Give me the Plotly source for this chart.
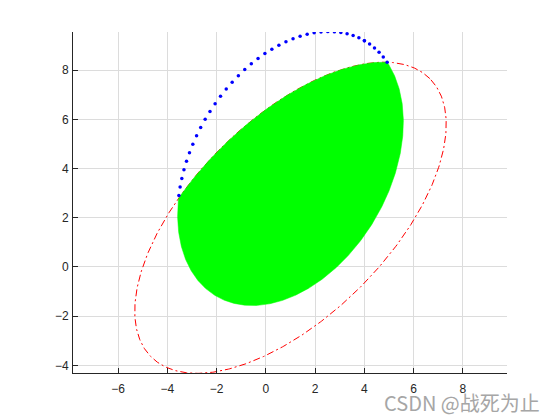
import numpy as np
import plotly.graph_objects as go

# Ellipse parameters (center, semi-axes, rotation in degrees)
e1_center = [1.0, 2.0]
e1_axes = [8.0, 4.0]
e1_angle = 45.0

e2_center = [1.0, 4.0]
e2_axes = [6.0, 4.0]
e2_angle = 60.0

x_ticks = [-6, -4, -2, 0, 2, 4, 6, 8]
y_ticks = [-4, -2, 0, 2, 4, 6, 8]
x_range = [-7.83, 9.79]
y_range = [-4.31, 9.55]

watermark = "CSDN @战死为止"


def ellipse(center, axes, angle, t):
    th = np.deg2rad(angle)
    a, b = axes
    x = center[0] + a * np.cos(t) * np.cos(th) - b * np.sin(t) * np.sin(th)
    y = center[1] + a * np.cos(t) * np.sin(th) + b * np.sin(t) * np.cos(th)
    return x, y


def inside(center, axes, angle, x, y):
    th = np.deg2rad(angle)
    dx, dy = x - center[0], y - center[1]
    u = dx * np.cos(th) + dy * np.sin(th)
    v = -dx * np.sin(th) + dy * np.cos(th)
    return (u / axes[0]) ** 2 + (v / axes[1]) ** 2 <= 1.0


# red dash-dot ellipse 1
tf = np.linspace(0, 2 * np.pi, 721)
x1, y1 = ellipse(e1_center, e1_axes, e1_angle, tf)

# intersection region (both ellipses)
x2f, y2f = ellipse(e2_center, e2_axes, e2_angle, tf)
m1 = inside(e2_center, e2_axes, e2_angle, x1, y1)
m2 = inside(e1_center, e1_axes, e1_angle, x2f, y2f)
px = np.concatenate([x1[m1], x2f[m2]])
py = np.concatenate([y1[m1], y2f[m2]])
cx, cy = px.mean(), py.mean()
order = np.argsort(np.arctan2(py - cy, px - cx))
px, py = px[order], py[order]
px = np.append(px, px[0])
py = np.append(py, py[0])

# blue dotted part of ellipse 2 outside ellipse 1
td = np.linspace(0, 2 * np.pi, 101)
x2d, y2d = ellipse(e2_center, e2_axes, e2_angle, td)
out = ~inside(e1_center, e1_axes, e1_angle, x2d, y2d)

fig = go.Figure()
fig.add_trace(go.Scatter(x=x1, y=y1, mode="lines",
                         line=dict(color="#ff0000", width=1, dash="7px,3px,2px,3px"),
                         hoverinfo="skip"))
fig.add_trace(go.Scatter(x=px, y=py, mode="lines", fill="toself",
                         fillcolor="#00ff00", line=dict(color="#00ff00", width=0.5),
                         hoverinfo="skip"))
fig.add_trace(go.Scatter(x=x2d[out], y=y2d[out], mode="markers",
                         marker=dict(color="#0000ff", size=3.5), hoverinfo="skip"))

axis_common = dict(showgrid=True, gridcolor="#dcdcdc", gridwidth=1,
                   zeroline=False, showline=True, linecolor="#262626", linewidth=1,
                   ticks="inside", ticklen=5, tickcolor="#262626",
                   tickfont=dict(family="Liberation Sans, Arial", size=12, color="#262626"),
                   mirror=False)
fig.update_xaxes(range=x_range, tickvals=x_ticks, ticklabelstandoff=5, **axis_common)
fig.update_yaxes(range=y_range, tickvals=y_ticks, ticklabelstandoff=1, **axis_common)

# page body has an 8px margin: figure is shifted by (8, 8)
W, H = 552, 412
L, T, R, B = 65, 24, 53, 47
fig.update_layout(
    width=W, height=H,
    margin=dict(l=L, r=R, t=T, b=B),
    paper_bgcolor="white", plot_bgcolor="white",
    showlegend=False,
    annotations=[dict(text=watermark,
                      x=(534 - L) / (W - L - R), y=-(394 - (H - B)) / (H - T - B),
                      xref="paper", yref="paper",
                      showarrow=False, xanchor="right", yanchor="middle",
                      font=dict(family="Noto Sans CJK SC", size=20, color="#a6a6a6"))],
)

fig.write_html("out.html")
